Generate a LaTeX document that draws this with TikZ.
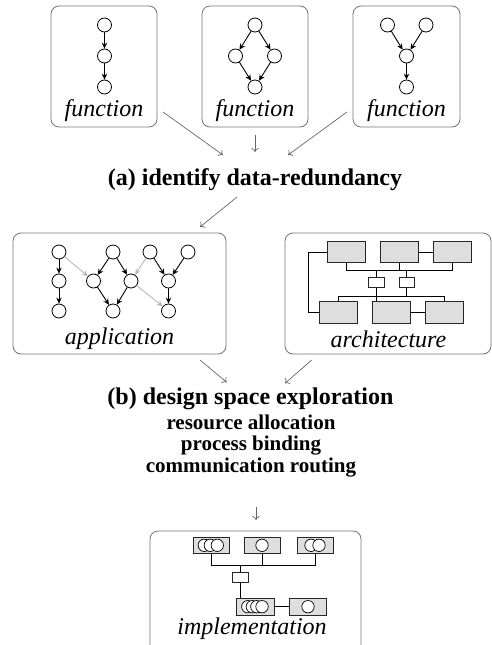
\documentclass[tikz,border=0pt]{standalone}
\usepackage{fontspec}
\setmainfont{Liberation Serif}
\usetikzlibrary{arrows.meta}
\tikzset{
  framebox/.style={draw=black!55, line width=0.8pt, rounded corners=8pt, inner sep=0pt},
  vtx/.style={circle, draw=black, fill=white, line width=0.8pt, minimum size=14pt, inner sep=0pt},
  ivtx/.style={circle, draw=black, fill=white, line width=0.7pt, minimum size=12.4pt, inner sep=0pt},
  edge/.style={line width=0.9pt, -{Stealth[length=6pt,width=5.5pt]}},
  xedge/.style={draw=black!28, line width=0.9pt, -{Stealth[length=6pt,width=5.5pt]}},
  flow/.style={draw=black!60, line width=0.7pt, -{To[length=4pt,width=7.5pt]}},
  proc/.style={draw=black!85, fill=black!13, line width=0.8pt, inner sep=0pt},
  wire/.style={draw=black, line width=0.7pt},
  lbl/.style={font=\fontsize{24}{28}\selectfont\itshape, anchor=base, inner sep=0pt},
  head/.style={font=\fontsize{24}{28}\selectfont\bfseries, anchor=base, inner sep=0pt},
  sub/.style={font=\fontsize{21}{24}\selectfont\bfseries, anchor=base, inner sep=0pt}
}
\begin{document}
\begin{tikzpicture}[x=1pt,y=-1pt]
\useasboundingbox (0,0) rectangle (492,645);
\clip (0,0) rectangle (492,645);

% ---------- function boxes ----------
\node[framebox, minimum width=106pt, minimum height=121pt] (F1) at (104,66.5) {};
\node[framebox, minimum width=106pt, minimum height=121pt] (F2) at (255,66.5) {};
\node[framebox, minimum width=107pt, minimum height=121pt] (F3) at (406.5,66.5) {};

\node[vtx] (a1) at (104.5,25) {};
\node[vtx] (a2) at (104.5,56) {};
\node[vtx] (a3) at (104.5,87) {};
\draw[edge] (a1) -- (a2);
\draw[edge] (a2) -- (a3);

\node[vtx] (b1) at (255,25) {};
\node[vtx] (b2) at (235.5,56) {};
\node[vtx] (b3) at (274.5,56) {};
\node[vtx] (b4) at (255,87) {};
\draw[edge] (b1) -- (b2);
\draw[edge] (b1) -- (b3);
\draw[edge] (b2) -- (b4);
\draw[edge] (b3) -- (b4);

\node[vtx] (c1) at (387.5,25) {};
\node[vtx] (c2) at (426,25) {};
\node[vtx] (c3) at (406.5,56) {};
\node[vtx] (c4) at (406.5,87) {};
\draw[edge] (c1) -- (c3);
\draw[edge] (c2) -- (c3);
\draw[edge] (c3) -- (c4);

\node[lbl] (L1) at (104,116) {function};
\node[lbl] (L2) at (255,116) {function};
\node[lbl] (L3) at (406.5,116) {function};

% ---------- (a) ----------
\node[head] (HA) at (255,185) {(a) identify data-redundancy};
\coordinate (s1) at (163,112); \coordinate (e1) at (223,155);
\coordinate (s2) at (255,135); \coordinate (e2) at (255,152);
\coordinate (s3) at (347,112); \coordinate (e3) at (288,155);
\draw[flow] (s1) -- (e1);
\draw[flow] (s2) -- (e2);
\draw[flow] (s3) -- (e3);

\coordinate (s4) at (237,197); \coordinate (e4) at (200,227);
\draw[flow] (s4) -- (e4);

% ---------- application ----------
\node[framebox, minimum width=213pt, minimum height=121pt] (APP) at (119.5,293.5) {};
\node[vtx] (p1) at (59,252) {};
\node[vtx] (p2) at (59,281) {};
\node[vtx] (p3) at (59,311) {};
\node[vtx] (q1) at (113,252) {};
\node[vtx] (q2) at (93.5,281) {};
\node[vtx] (q3) at (131,281) {};
\node[vtx] (q4) at (113,311) {};
\node[vtx] (r1) at (150,252) {};
\node[vtx] (r2) at (188,252) {};
\node[vtx] (r3) at (168.5,281) {};
\node[vtx] (r4) at (168.5,311) {};
\draw[edge] (p1) -- (p2);
\draw[edge] (p2) -- (p3);
\draw[edge] (q1) -- (q2);
\draw[edge] (q1) -- (q3);
\draw[edge] (q2) -- (q4);
\draw[edge] (q3) -- (q4);
\draw[edge] (r1) -- (r3);
\draw[edge] (r2) -- (r3);
\draw[edge] (r3) -- (r4);
\draw[xedge] (p1) -- (q2);
\draw[xedge] (r1) -- (q3);
\draw[xedge] (q3) -- (r4);
\node[lbl] (LA) at (119.5,344) {application};

% ---------- architecture ----------
\node[framebox, minimum width=206pt, minimum height=121pt] (ARC) at (388,293.5) {};
\node[proc, minimum width=38.4pt, minimum height=21pt] (t1) at (346.5,252.2) {};
\node[proc, minimum width=38.4pt, minimum height=21pt] (t2) at (399.2,252.2) {};
\node[proc, minimum width=38.4pt, minimum height=21pt] (t3) at (452.2,252.2) {};
\node[proc, minimum width=38.4pt, minimum height=21.5pt] (u1) at (338.5,312.5) {};
\node[proc, minimum width=38.4pt, minimum height=21.5pt] (u2) at (391.5,312.5) {};
\node[proc, minimum width=38.4pt, minimum height=21.5pt] (u3) at (444.5,312.5) {};
\node[draw=black!85, fill=white, line width=0.8pt, minimum width=16pt, minimum height=10.4pt, inner sep=0pt] (k1) at (376.3,282.5) {};
\node[draw=black!85, fill=white, line width=0.8pt, minimum width=15pt, minimum height=10.4pt, inner sep=0pt] (k2) at (406.5,282.5) {};
\coordinate (busT) at (0,270);
\coordinate (busB) at (0,296);
\draw[wire] (t1.south) -- (t1.south |- busT) -- (t3.south |- busT) -- (t3.south);
\draw[wire] (t2.south) -- (t2.south |- busT);
\draw[wire] (k1.north |- busT) -- (k1.north);
\draw[wire] (k2.north |- busT) -- (k2.north);
\draw[wire] (u1.north) -- (u1.north |- busB) -- (u3.north |- busB) -- (u3.north);
\draw[wire] (k1.south) -- (k1.south |- u2.north);
\draw[wire] (k2.south) -- (k2.south |- busB);
\draw[wire] (t2.east) -- (t3.west);
\draw[wire] (u2.east) -- (u3.west);
\coordinate (lp) at (308.3,0);
\draw[wire] (t1.west) -- (lp |- t1.west) -- (lp |- u1.west) -- (u1.west);
\node[lbl] (LR) at (388.5,347) {architecture};

% ---------- (b) ----------
\coordinate (s5) at (200,360); \coordinate (e5) at (226.7,382.3);
\coordinate (s6) at (311.7,360); \coordinate (e6) at (285,383.3);
\draw[flow] (s5) -- (e5);
\draw[flow] (s6) -- (e6);
\node[head] (HB) at (250.5,404) {(b) design space exploration};
\node[sub] (S1) at (251,429) {resource allocation};
\node[sub] (S2) at (251,450.7) {process binding};
\node[sub] (S3) at (251,472.5) {communication routing};
\coordinate (s7) at (256,506.7); \coordinate (e7) at (256,520);
\draw[flow] (s7) -- (e7);

% ---------- implementation ----------
\draw[framebox] (150,680) -- (150,531) -- (361,531) -- (361,680);
\coordinate (IMP) at (255.5,531);
\node[proc, minimum width=36pt, minimum height=16pt] (i1) at (211.3,545.3) {};
\node[proc, minimum width=36pt, minimum height=16pt] (i2) at (262,545.3) {};
\node[proc, minimum width=36pt, minimum height=16pt] (i3) at (315.3,545.3) {};
\node[proc, minimum width=37.3pt, minimum height=16.7pt] (i4) at (255.3,606.7) {};
\node[proc, minimum width=37.3pt, minimum height=16.7pt] (i5) at (308,606.7) {};
\node[draw=black!85, fill=white, line width=0.8pt, minimum width=15.6pt, minimum height=10pt, inner sep=0pt] (ik) at (240.5,577.7) {};
\coordinate (busI) at (0,565);
\draw[wire] (i1.south) -- (i1.south |- busI) -- (i3.south |- busI) -- (i3.south);
\draw[wire] (i2.south) -- (i2.south |- busI);
\draw[wire] (ik.north |- busI) -- (ik.north);
\draw[wire] (ik.south) -- (ik.south |- i4.north);
\draw[wire] (i4.east) -- (i5.west);
% processes mapped onto resources
\node[ivtx] (m11) at (204.3,545.3) {};
\node[ivtx] (m12) at (210.3,545.3) {};
\node[ivtx] (m13) at (217.3,545.3) {};
\node[ivtx] (m21) at (262,545.3) {};
\node[ivtx] (m31) at (311,545.3) {};
\node[ivtx] (m32) at (319,545.3) {};
\node[ivtx] (m41) at (247.8,606.7) {};
\node[ivtx] (m42) at (252.3,606.7) {};
\node[ivtx] (m43) at (256.8,606.7) {};
\node[ivtx] (m44) at (262,606.7) {};
\node[ivtx] (m51) at (308,606.7) {};
\node[lbl] (LI) at (252,634.5) {implementation};
\end{tikzpicture}
\end{document}
